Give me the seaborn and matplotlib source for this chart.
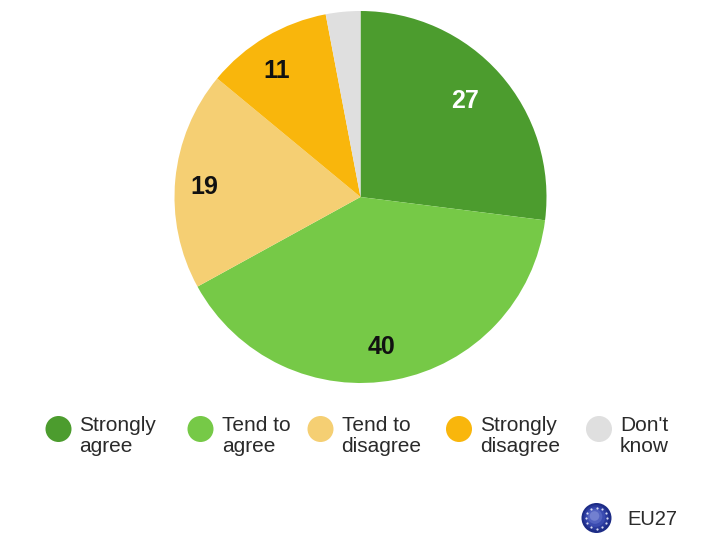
import matplotlib
matplotlib.use("Agg")
import matplotlib.pyplot as plt
import numpy as np
import seaborn as sns
from matplotlib.patches import Circle

categories = ["Strongly\nagree", "Tend to\nagree", "Tend to\ndisagree", "Strongly\ndisagree", "Don't\nknow"]
values = [27, 40, 19, 11, 3]
labels = ["27", "40", "19", "11", ""]
colors = ["#4c9c2e", "#76c947", "#f5cf73", "#f9b60c", "#dfdfdf"]
label_colors = ["white", "#111111", "#111111", "#111111", "#111111"]
region = "EU27"

sns.set_theme(style="white")
plt.rcParams["font.family"] = ["Liberation Sans", "DejaVu Sans"]

W, H = 701, 533
fig = plt.figure(figsize=(W / 100, H / 100), dpi=100, facecolor="white")
cx, cy, r = 360.5, 197, 186
ax = fig.add_axes([(cx - r) / W, 1 - (cy + r) / H, 2 * r / W, 2 * r / H])
ax.pie(values, colors=colors, startangle=90, counterclock=False, radius=1,
       wedgeprops={"linewidth": 0})
ax.set_xlim(-1, 1)
ax.set_ylim(-1, 1)

ov = fig.add_axes([0, 0, 1, 1], facecolor="none")
ov.set_xlim(0, W)
ov.set_ylim(H, 0)
ov.axis("off")

label_pos = [(465, 101), (381, 347), (204, 187), (277, 71)]
for (x, y), t, c in zip(label_pos, labels, label_colors):
    ov.text(x, y, t, ha="center", va="center", color=c, fontsize=18,
            fontweight="bold")

mark_x = [58.5, 200.5, 320.5, 459, 599]
text_x = [79.5, 222, 341.5, 480, 620]
for mx, tx, cat, col in zip(mark_x, text_x, categories, colors):
    ov.add_patch(Circle((mx, 429), 13, color=col, lw=0))
    ov.text(tx, 436, cat, ha="left", va="center", fontsize=15,
            color="#2a2a2a", linespacing=1.12)

fx, fy, fr = 596.5, 518, 15
shades = ["#1d2c86", "#2a3a9c", "#3a4bb0", "#5262c0", "#7280d0"]
for k, shade in enumerate(shades):
    ov.add_patch(Circle((fx - k * 0.5, fy - k * 0.5), fr * (1 - k * 0.17), color=shade, lw=0))
theta = np.linspace(0, 2 * np.pi, 12, endpoint=False)
ov.scatter(fx + 10.5 * np.cos(theta), fy + 10.5 * np.sin(theta), s=2.5, color="#d8dcf2", lw=0)
ov.text(627, 519.5, region, ha="left", va="center", fontsize=14.5, color="#2a2a2a")

fig.savefig("out.png", dpi=100)
